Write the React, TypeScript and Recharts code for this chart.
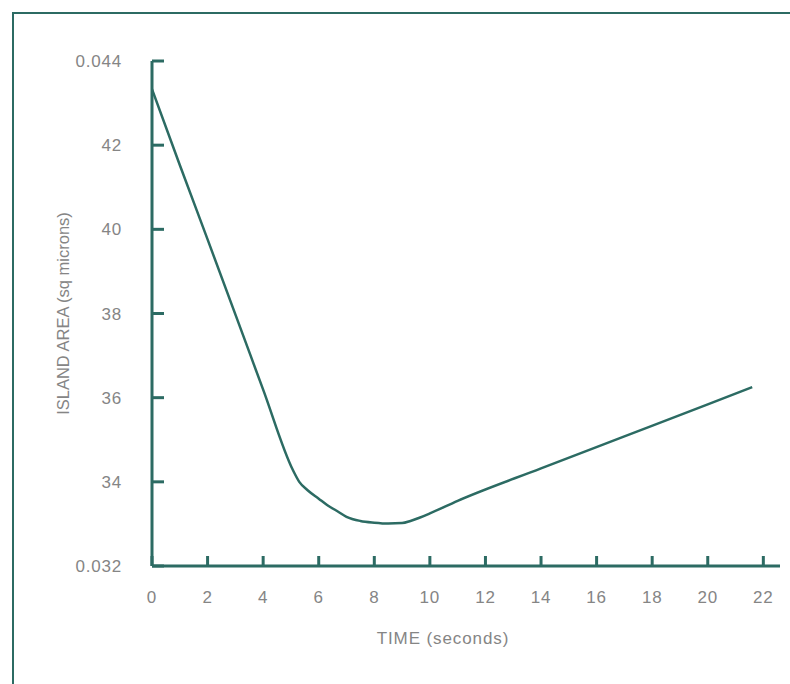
import { CartesianGrid, Label, Line, LineChart, XAxis, YAxis } from "recharts";

// time in seconds
const TIME = [0, 1, 2, 3, 4, 5.07, 5.3, 5.6, 6.0, 6.3, 6.7, 7.0, 7.5, 8.0, 8.5, 9.0, 9.3, 9.6, 10.0, 11, 14, 17, 20, 21.6];
// island area (scaled so 32..44 on the axis)
const AREA = [43.33, 41.53, 39.76, 37.98, 36.19, 34.28, 34.0, 33.8, 33.6, 33.45, 33.29, 33.17, 33.07, 33.03, 33.01, 33.02, 33.07, 33.14, 33.25, 33.55, 34.32, 35.08, 35.84, 36.25];

const X_TICKS = [0, 2, 4, 6, 8, 10, 12, 14, 16, 18, 20, 22];
const Y_TICKS = [32, 34, 36, 38, 40, 42, 44];
const Y_TICK_LABELS = ["0.032", "34", "36", "38", "40", "42", "0.044"];

const INK = "#2c6b63";
const GREY = "#858585";
const FONT = "'Liberation Sans', Arial, sans-serif";

const data = TIME.map((t, i) => ({ t, area: AREA[i] }));

export default function App() {
  const tickStyle = { fontSize: 17, fill: GREY, fontFamily: FONT, letterSpacing: 0.8 };

  return (
    <div
      style={{
        position: "fixed",
        left: 0,
        top: 0,
        width: 790,
        height: 684,
        overflow: "hidden",
        background: "#fff",
      }}
    >
      <div
        style={{
          position: "absolute",
          left: 12,
          top: 12,
          width: 900,
          height: 900,
          borderLeft: `2px solid ${INK}`,
          borderTop: `2px solid ${INK}`,
        }}
      />
      <div style={{ position: "absolute", left: 0, top: 0 }}>
        <LineChart width={790} height={684} data={data} margin={{ top: 61, right: 10, bottom: 0, left: 0 }}>
          <CartesianGrid stroke="none" />
          <XAxis
            type="number"
            dataKey="t"
            domain={[0, 22.6]}
            ticks={X_TICKS}
            allowDataOverflow
            height={118}
            stroke={INK}
            strokeWidth={3}
            tickSize={-10}
            tickMargin={35}
            tick={tickStyle}
          >
            <Label
              value="TIME (seconds)"
              position="insideBottom"
              offset={40}
              dx={-23}
              style={{ fontSize: 17, fill: GREY, fontFamily: FONT, letterSpacing: 0.9 }}
            />
          </XAxis>
          <YAxis
            type="number"
            domain={[32, 44]}
            ticks={Y_TICKS}
            width={152}
            stroke={INK}
            strokeWidth={3}
            tickSize={-12}
            tickMargin={42}
            tick={tickStyle}
            tickFormatter={(v) => Y_TICK_LABELS[Y_TICKS.indexOf(v)] ?? String(v)}
          >
            <Label
              value="ISLAND AREA (sq microns)"
              angle={-90}
              position="insideLeft"
              offset={63}
              style={{ textAnchor: "middle", fontSize: 16.5, fill: GREY, fontFamily: FONT }}
            />
          </YAxis>
          <Line
            type="monotone"
            dataKey="area"
            stroke={INK}
            strokeWidth={2.5}
            dot={false}
            isAnimationActive={false}
          />
        </LineChart>
      </div>
    </div>
  );
}
